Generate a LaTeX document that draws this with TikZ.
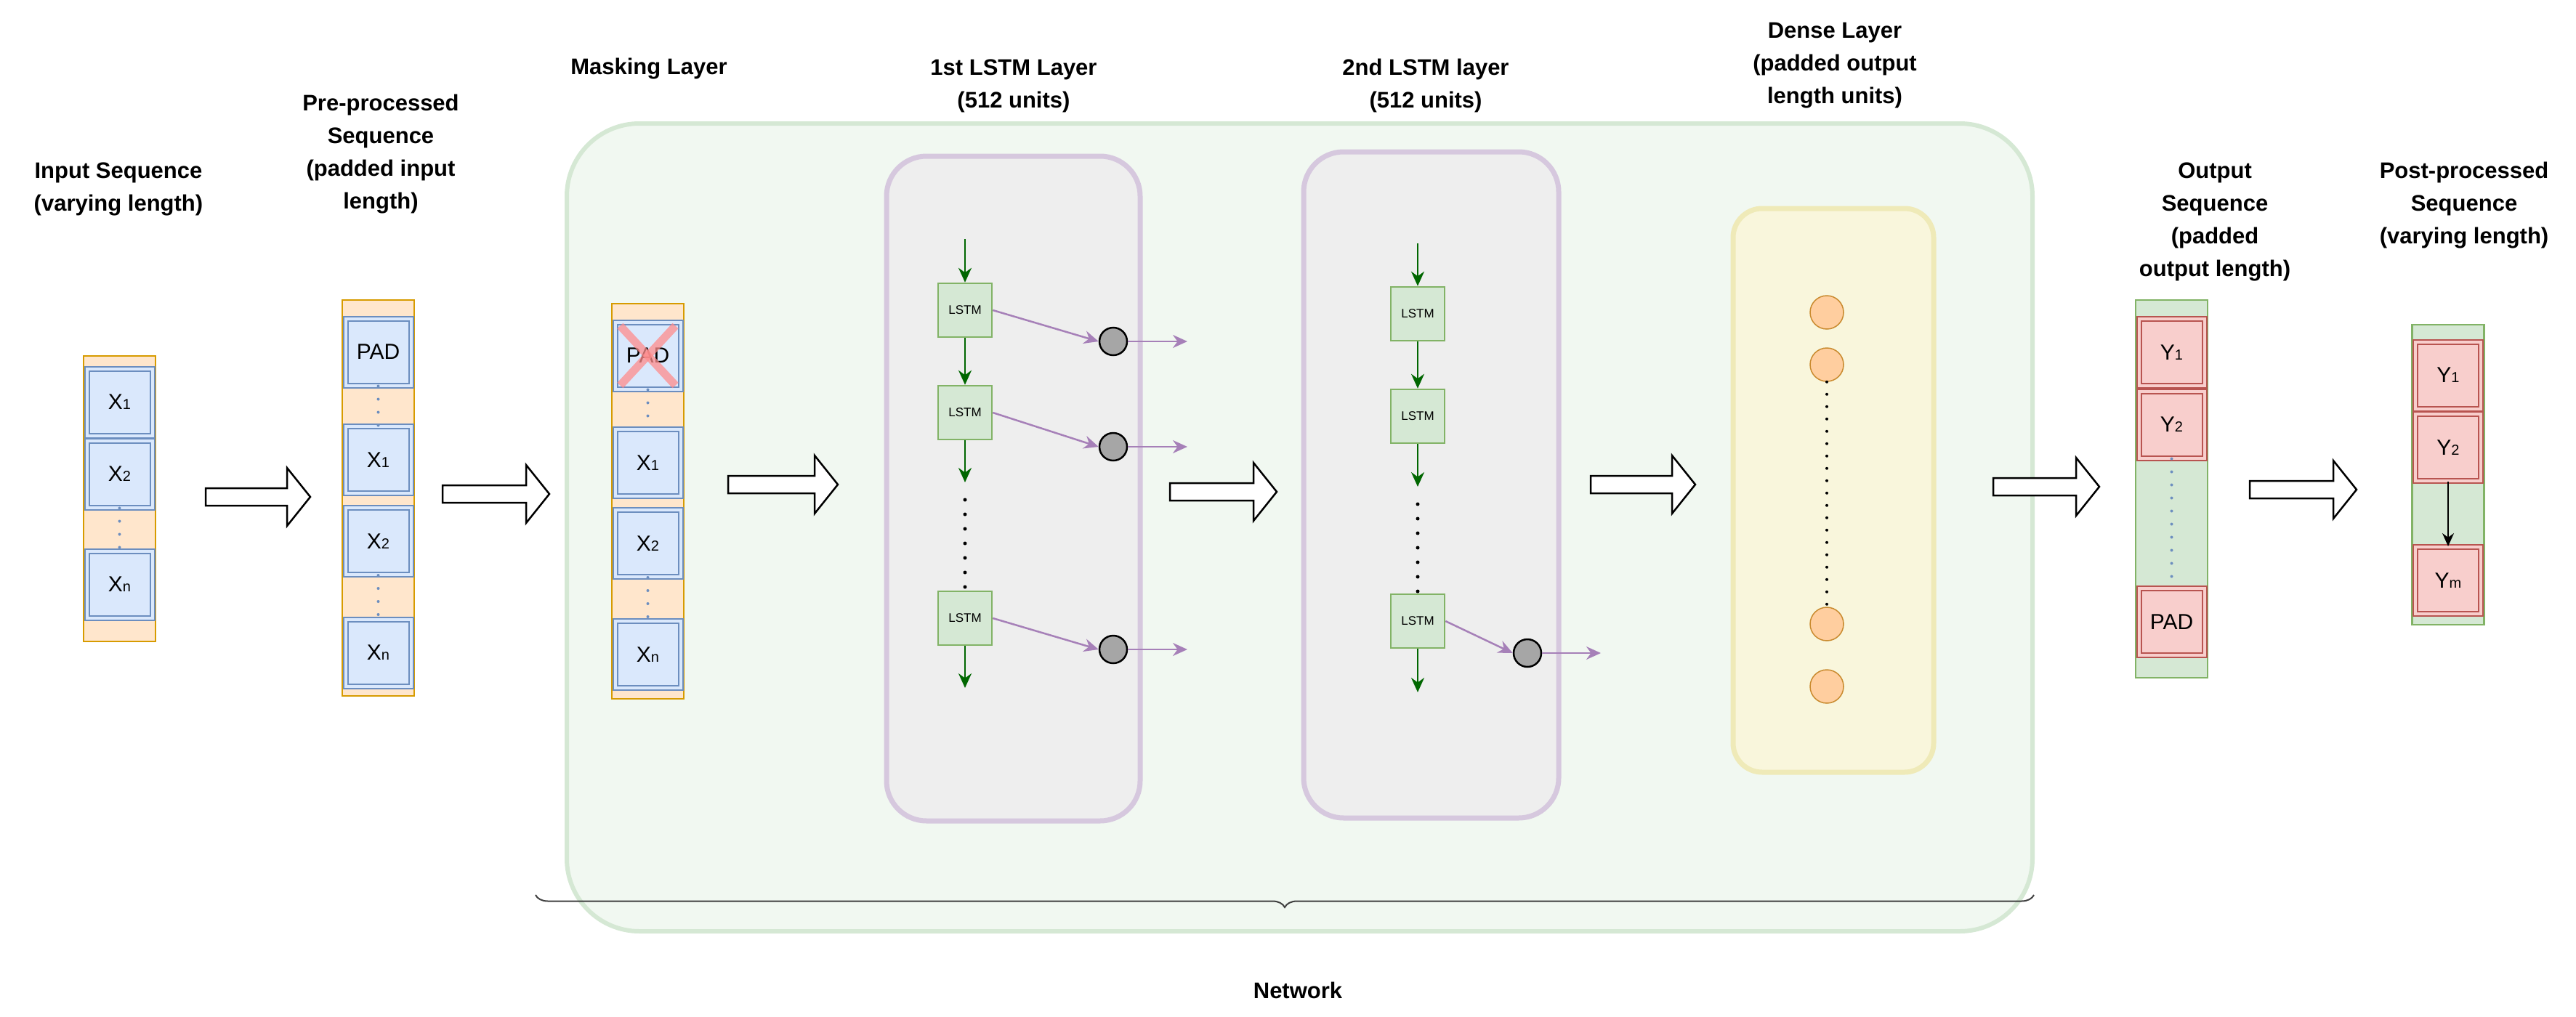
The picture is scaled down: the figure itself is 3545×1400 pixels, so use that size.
\documentclass[tikz,border=0pt]{standalone}
\usepackage{fontspec}
\setmainfont{Liberation Sans}
\usetikzlibrary{arrows.meta,decorations.pathreplacing,calc}
\definecolor{padO}{HTML}{FFE6CC}\definecolor{padOs}{HTML}{D79B00}
\definecolor{cB}{HTML}{DAE8FC}\definecolor{cBs}{HTML}{6C8EBF}
\definecolor{cR}{HTML}{F8CECC}\definecolor{cRs}{HTML}{B85450}
\definecolor{gF}{HTML}{D5E8D4}\definecolor{gS}{HTML}{82B366}
\definecolor{netF}{HTML}{F1F8F1}\definecolor{netS}{HTML}{D5E8D4}
\definecolor{layF}{HTML}{EEEEEE}\definecolor{layS}{HTML}{D6C8DE}
\definecolor{pur}{HTML}{A680B8}\definecolor{dgreen}{HTML}{006600}
\definecolor{denF}{HTML}{F9F6DC}\definecolor{denS}{HTML}{EFEAB8}
\definecolor{oC}{HTML}{FFCE9F}\definecolor{oCs}{HTML}{C98A2E}
\newcommand\subd[1]{{\fontsize{20}{20}\selectfont #1}}
\newcommand\harrow[3]{%
  \draw[line width=2.5pt,fill=white,line join=miter] (#1,#3-12) -- (#2-32,#3-12) -- (#2-32,#3-40) -- (#2,#3) -- (#2-32,#3+40) -- (#2-32,#3+12) -- (#1,#3+12) -- cycle;}
\tikzset{
  title/.style={align=center,font=\bfseries\fontsize{31}{45}\selectfont},
  col/.style={draw=padOs,fill=padO,line width=2.5pt,minimum width=99pt,inner sep=0},
  gcol/.style={draw=gS,fill=gF,line width=2.5pt,minimum width=99pt,inner sep=0},
  bcell/.style={draw=cBs,double=cB,double distance=4pt,line width=2pt,fill=cB,minimum width=90pt,minimum height=92pt,inner sep=0,font=\fontsize{30}{30}\selectfont},
  rcell/.style={draw=cRs,double=cR,double distance=4pt,line width=2pt,fill=cR,minimum width=90pt,minimum height=92pt,inner sep=0,font=\fontsize{30}{30}\selectfont},
  bdots/.style={draw=cBs,line width=4pt,dash pattern=on 0pt off 18pt,line cap=round},
  lstm/.style={draw=gS,fill=gF,line width=2.5pt,minimum width=74pt,minimum height=74pt,inner sep=0,font=\fontsize{17}{17}\selectfont},
  garr/.style={draw=dgreen,line width=2.5pt,-{Stealth[length=20pt,width=18pt]}},
  parr/.style={draw=pur,line width=2.5pt,-{Stealth[length=20pt,width=18pt]}},
  gcirc/.style={circle,draw=black,fill=gray!70,line width=2.5pt,minimum size=38pt,inner sep=0},
  ocirc/.style={circle,draw=oCs,fill=oC,line width=1.5pt,minimum size=46pt,inner sep=0},
  kdots/.style={line width=5pt,dash pattern=on 0pt off 20pt,line cap=round}
}
\begin{document}
\begin{tikzpicture}[x=1pt,y=-1pt]
\useasboundingbox (0,0) rectangle (3545,1400);
% titles
\node[title] (t1) at (163,260) {Input Sequence\\(varying length)};
\node[title] (t2) at (524,212) {Pre-processed\\Sequence\\(padded input\\length)};
\node[title] (t3) at (893,95) {Masking Layer};
\node[title] (t4) at (1395,118) {1st LSTM Layer\\(512 units)};
\node[title] (t5) at (1962,118) {2nd LSTM layer\\(512 units)};
\node[title] (t6) at (2525,90) {Dense Layer\\(padded output\\length units)};
\node[title] (t7) at (3048,305) {Output\\Sequence\\(padded\\output length)};
\node[title] (t8) at (3391,283) {Post-processed\\Sequence\\(varying length)};
% input column
\node[col,minimum height=393pt] (c1) at (164.5,686.5) {};
\node[bcell] (i1) at (164.5,553.5) {X\subd1};
\node[bcell] (i2) at (164.5,652.5) {X\subd2};
\node[bcell] (i3) at (164.5,804.5) {X\subd{n}};
\draw[bdots] (i2.south) -- (i3.north);
\harrow{283}{427}{684}
% pre-processed column
\node[col,minimum height=545pt] (c2) at (520.5,685.5) {};
\node[bcell] (p0) at (520.5,484.5) {PAD};
\node[bcell] (p1) at (520.5,633) {X\subd1};
\node[bcell] (p2) at (520.5,745) {X\subd2};
\node[bcell] (p3) at (520.5,898.5) {X\subd{n}};
\draw[bdots] (p0.south) -- (p1.north);
\draw[bdots] (p2.south) -- (p3.north);
\harrow{609}{756}{680}
% network box
\node[draw=netS,fill=netF,line width=6pt,rounded corners=100pt,minimum width=2017pt,minimum height=1112pt] (net) at (1788.5,726) {};
% masking column
\node[col,minimum height=544pt] (c3) at (891.5,690) {};
\node[bcell] (m0) at (891.5,489.5) {PAD};
\draw[draw=red!45,line width=11pt,opacity=.75] ($(m0.north west)+(8,6)$) -- ($(m0.south east)+(-8,-6)$);
\draw[draw=red!45,line width=11pt,opacity=.75] ($(m0.north east)+(-8,6)$) -- ($(m0.south west)+(8,-6)$);
\node[bcell] (m1) at (891.5,637) {X\subd1};
\node[bcell] (m2) at (891.5,748) {X\subd2};
\node[bcell] (m3) at (891.5,901) {X\subd{n}};
\draw[bdots] (m0.south) -- (m1.north);
\draw[bdots] (m2.south) -- (m3.north);
\harrow{1002}{1153}{667}
% LSTM layer 1
\node[draw=layS,fill=layF,line width=7pt,rounded corners=55pt,minimum width=349pt,minimum height=915pt] (L1) at (1394.5,672.5) {};
\coordinate (a0) at (1328,329);
\node[lstm] (l11) at (1328,427) {LSTM};
\node[lstm] (l12) at (1328,568) {LSTM};
\node[lstm] (l13) at (1328,851) {LSTM};
\coordinate (a2) at (1328,664);
\coordinate (a3) at (1328,947);
\draw[garr] (a0) -- (l11.north);
\draw[garr] (l11.south) -- (l12.north);
\draw[garr] (l12.south) -- (a2);
\draw[kdots] (1328,688) -- (l13.north);
\draw[garr] (l13.south) -- (a3);
\node[gcirc] (g1) at (1532,470) {};
\node[gcirc] (g2) at (1532,615) {};
\node[gcirc] (g3) at (1532,894) {};
\draw[parr] (l11.east) -- (g1.west);
\draw[parr] (l12.east) -- (g2.west);
\draw[parr] (l13.east) -- (g3.west);
\coordinate (o1) at (1634,470);\coordinate (o2) at (1634,615);\coordinate (o3) at (1634,894);
\draw[parr] (g1.east) -- (o1);
\draw[parr] (g2.east) -- (o2);
\draw[parr] (g3.east) -- (o3);
\harrow{1610}{1757}{677}
% LSTM layer 2
\node[draw=layS,fill=layF,line width=7pt,rounded corners=55pt,minimum width=351pt,minimum height=917pt] (L2) at (1969.5,667.5) {};
\coordinate (b0) at (1951,335);
\node[lstm] (l21) at (1951,432) {LSTM};
\node[lstm] (l22) at (1951,573) {LSTM};
\node[lstm] (l23) at (1951,855) {LSTM};
\coordinate (b2) at (1951,670);
\coordinate (b3) at (1951,953);
\draw[garr] (b0) -- (l21.north);
\draw[garr] (l21.south) -- (l22.north);
\draw[garr] (l22.south) -- (b2);
\draw[kdots] (1951,694) -- (l23.north);
\draw[garr] (l23.south) -- (b3);
\node[gcirc] (g4) at (2102,899) {};
\draw[parr] (l23.east) -- (g4.west);
\coordinate (o4) at (2203,899);
\draw[parr] (g4.east) -- (o4);
\harrow{2189}{2333}{667}
% dense layer
\node[draw=denS,fill=denF,line width=7pt,rounded corners=40pt,minimum width=276pt,minimum height=776pt] (D) at (2523,675) {};
\node[ocirc] (d1) at (2514,430) {};
\node[ocirc] (d2) at (2514,502) {};
\node[ocirc] (d3) at (2514,859) {};
\node[ocirc] (d4) at (2514,945) {};
\draw[kdots,line width=4pt,dash pattern=on 0pt off 17pt] (d2.south) -- (d3.north);
% brace
\draw[decorate,decoration={brace,mirror,amplitude=17pt},line width=2pt,draw=black!75] (737,1232) -- (2799,1232);
\node[font=\bfseries\fontsize{31}{31}\selectfont] (nt) at (1786,1363) {Network};
\harrow{2743}{2889}{670}
% output column
\node[gcol,minimum height=520pt] (c4) at (2988.5,673) {};
\node[rcell] (y1) at (2988.5,485) {Y\subd1};
\node[rcell] (y2) at (2988.5,584.5) {Y\subd2};
\node[rcell] (y3) at (2988.5,856) {PAD};
\draw[bdots] (y2.south) -- (y3.north);
\harrow{3096}{3243}{674}
% post column
\node[gcol,minimum height=413pt] (c5) at (3369,653.5) {};
\node[rcell] (z1) at (3369,516.5) {Y\subd1};
\node[rcell] (z2) at (3369,616) {Y\subd2};
\node[rcell] (z3) at (3369,799) {Y\subd{m}};
\draw[line width=2pt,-{Stealth[length=18pt,width=16pt]}] (z2.south) -- (z3.north);
\end{tikzpicture}
\end{document}
